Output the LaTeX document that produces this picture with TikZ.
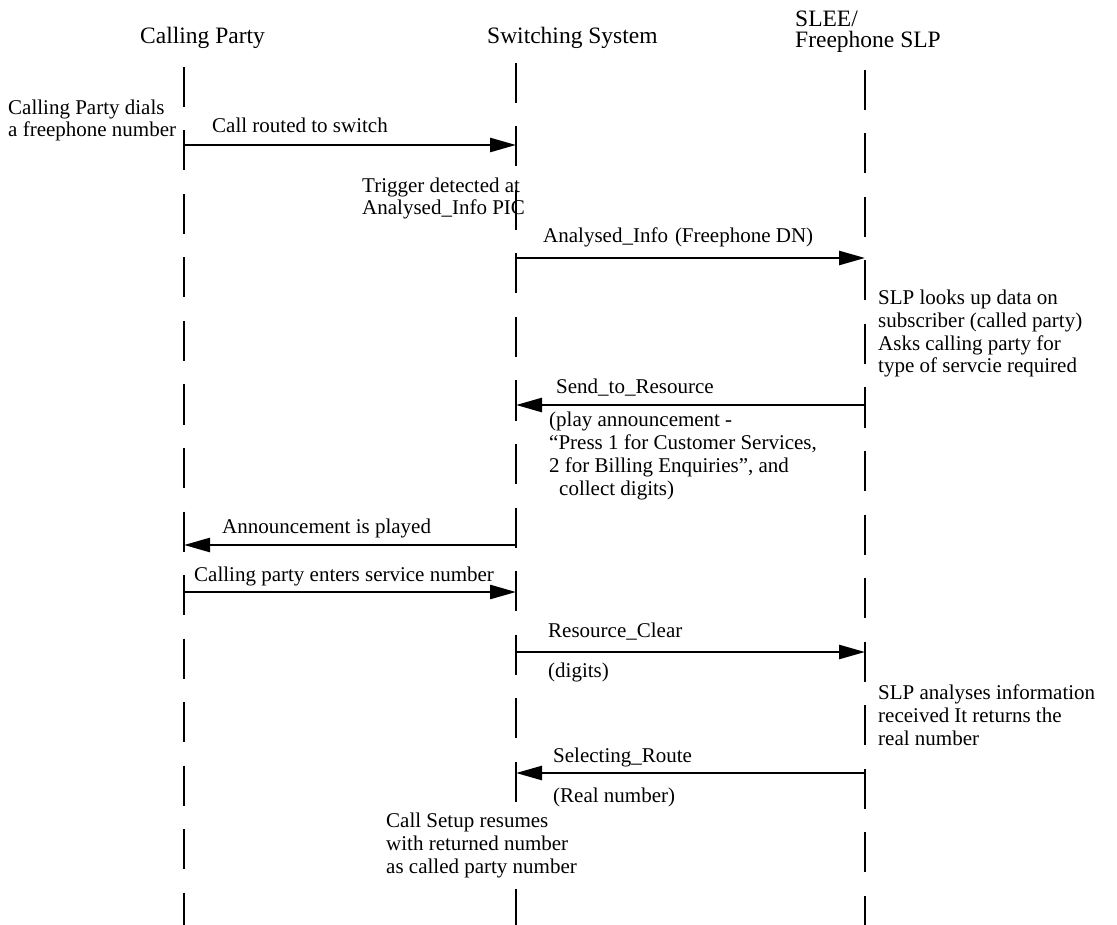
\documentclass[tikz,border=0pt]{standalone}
\usepackage{fontspec}
\setmainfont{Liberation Serif}
\usetikzlibrary{arrows.meta}
\begin{document}
\begin{tikzpicture}[x=1pt,y=-1pt,
  lifeline/.style={line width=2.8pt, dash pattern=on 40pt off 23.5pt},
  msg/.style={line width=2.5pt, -{Triangle[length=26pt,width=14pt]}},
  head/.style={font=\fontsize{23.5}{21.5}\selectfont, anchor=base west, inner sep=0pt, align=left},
  txt/.style={font=\fontsize{21}{22.7}\selectfont, anchor=base west, inner sep=0pt, align=left}]
\useasboundingbox (0,0) rectangle (1117,925);

% column headings (multi-line nodes are placed by their last baseline)
\node[head] (hcp) at (140,44) {Calling Party};
\node[head] (hsw) at (487,44) {Switching System};
\node[head] (hsl) at (795,48) {SLEE/\\Freephone SLP};

% lifelines
\coordinate (cpT) at (184,67);  \coordinate (cpB) at (184,925);
\coordinate (swT) at (516,63);  \coordinate (swB) at (516,925);
\coordinate (slT) at (865,70);  \coordinate (slB) at (865,925);
\draw[lifeline] (cpT) -- (cpB);
\draw[lifeline] (swT) -- (swB);
\draw[lifeline] (slT) -- (slB);

% message end points on the lifelines
\coordinate (m1a) at (184,145); \coordinate (m1b) at (516,145);
\coordinate (m2a) at (516,258); \coordinate (m2b) at (865,258);
\coordinate (m3a) at (865,405); \coordinate (m3b) at (516,405);
\coordinate (m4a) at (516,545); \coordinate (m4b) at (184,545);
\coordinate (m5a) at (184,592); \coordinate (m5b) at (516,592);
\coordinate (m6a) at (516,652); \coordinate (m6b) at (865,652);
\coordinate (m7a) at (865,773); \coordinate (m7b) at (516,773);

\draw[msg] (m1a) -- (m1b);
\draw[msg] (m2a) -- (m2b);
\draw[msg] (m3a) -- (m3b);
\draw[msg] (m4a) -- (m4b);
\draw[msg] (m5a) -- (m5b);
\draw[msg] (m6a) -- (m6b);
\draw[msg] (m7a) -- (m7b);

% message labels
\node[txt] (l1) at (212,133) {Call routed to switch};
\node[txt] (l2) at (543,243) {Analysed\_Info\hspace{7pt}(Freephone DN)};
\node[txt] (l3) at (556,393) {Send\_to\_Resource};
\node[txt] (l3b) at (549,495) {(play announcement\hspace{5pt}-\\“Press 1 for Customer Services,\\2 for Billing Enquiries”, and\\\hspace{10pt}collect digits)};
\node[txt] (l4) at (222,533) {Announcement is played};
\node[txt] (l5) at (194,581) {Calling party enters service number};
\node[txt] (l6) at (548,637) {Resource\_Clear};
\node[txt] (l6b) at (548,677) {(digits)};
\node[txt] (l7) at (553,762) {Selecting\_Route};
\node[txt] (l7b) at (553,802) {(Real number)};

% notes beside the lifelines
\node[txt] (n1) at (8,137) {Calling Party dials\\a freephone number};
\node[txt] (n2) at (362,215) {Trigger detected at\\Analysed\_Info PIC};
\node[txt] (n3) at (878,373) {SLP looks up data on\\subscriber (called party)\\Asks calling party for\\type of servcie required};
\node[txt] (n4) at (878,745) {SLP analyses information\\received\hspace{5pt}It returns the\\real number};
\node[txt, fill=white] (n5) at (386,873) {Call Setup resumes\\with returned number\\as called party number};
\end{tikzpicture}
\end{document}
